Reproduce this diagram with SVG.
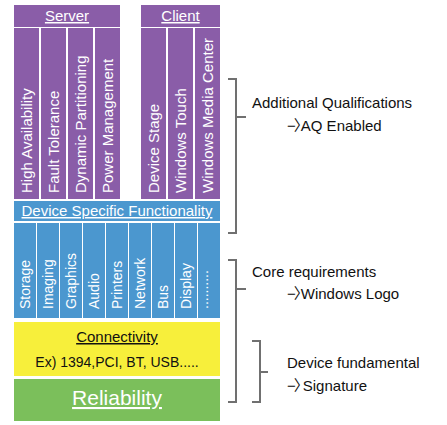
<svg xmlns="http://www.w3.org/2000/svg" width="447" height="425" viewBox="0 0 447 425">
<style>
.p{fill:#8a5da8}
.b{fill:#4b97cf}
.w{fill:#fff;font-family:"Liberation Sans",Arial,sans-serif}
.k{fill:#111;font-family:"Liberation Sans","Noto Sans CJK KR",Arial,sans-serif;font-size:15px}
.v{font-size:15px}
.bv{font-size:14px}
.u{text-decoration:underline}
.br{fill:none;stroke:#707070;stroke-width:2}
</style>
<rect width="447" height="425" fill="#fff"/>
<g id="server">
<rect class="p" x="14" y="5" width="106" height="22"/>
<text class="w u" x="67" y="21" font-size="15" text-anchor="middle">Server</text>
</g>
<g id="client">
<rect class="p" x="141" y="5" width="79" height="22"/>
<text class="w u" x="180.5" y="21" font-size="15" text-anchor="middle">Client</text>
</g>
<g id="high-availability"><rect class="p" x="14" y="28" width="25" height="171"/><text class="w v" transform="translate(31.5,193) rotate(-90)">High Availability</text></g>
<g id="fault-tolerance"><rect class="p" x="41" y="28" width="25" height="171"/><text class="w v" transform="translate(58.5,193) rotate(-90)">Fault Tolerance</text></g>
<g id="dynamic-partitioning"><rect class="p" x="68" y="28" width="25" height="171"/><text class="w v" transform="translate(85.5,193) rotate(-90)">Dynamic Partitioning</text></g>
<g id="power-management"><rect class="p" x="95" y="28" width="25" height="171"/><text class="w v" transform="translate(112.5,193) rotate(-90)">Power Management</text></g>
<g id="device-stage"><rect class="p" x="141" y="28" width="25" height="171"/><text class="w v" transform="translate(158.5,193) rotate(-90)">Device Stage</text></g>
<g id="windows-touch"><rect class="p" x="168" y="28" width="25" height="171"/><text class="w v" transform="translate(185.5,193) rotate(-90)">Windows Touch</text></g>
<g id="windows-media-center"><rect class="p" x="195" y="28" width="25" height="171"/><text class="w v" transform="translate(212.5,193) rotate(-90)">Windows Media Center</text></g>
<g id="device-specific">
<rect class="b" x="14" y="201" width="206" height="20"/>
<text class="w u" x="117" y="216" font-size="15" text-anchor="middle">Device Specific Functionality</text>
</g>
<g id="storage"><rect class="b" x="14" y="223" width="22" height="95"/><text class="w bv" transform="translate(29.5,309) rotate(-90)">Storage</text></g>
<g id="imaging"><rect class="b" x="37" y="223" width="22" height="95"/><text class="w bv" transform="translate(52.5,309) rotate(-90)">Imaging</text></g>
<g id="graphics"><rect class="b" x="60" y="223" width="22" height="95"/><text class="w bv" transform="translate(75.5,309) rotate(-90)">Graphics</text></g>
<g id="audio"><rect class="b" x="83" y="223" width="22" height="95"/><text class="w bv" transform="translate(98.5,309) rotate(-90)">Audio</text></g>
<g id="printers"><rect class="b" x="106" y="223" width="22" height="95"/><text class="w bv" transform="translate(121.5,309) rotate(-90)">Printers</text></g>
<g id="network"><rect class="b" x="129" y="223" width="22" height="95"/><text class="w bv" transform="translate(144.5,309) rotate(-90)">Network</text></g>
<g id="bus"><rect class="b" x="152" y="223" width="22" height="95"/><text class="w bv" transform="translate(167.5,309) rotate(-90)">Bus</text></g>
<g id="display"><rect class="b" x="175" y="223" width="22" height="95"/><text class="w bv" transform="translate(190.5,309) rotate(-90)">Display</text></g>
<g id="more"><rect class="b" x="198" y="223" width="22" height="95"/><text class="w bv" transform="translate(208,309) rotate(-90)">..........</text></g>
<g id="connectivity">
<rect x="14" y="322" width="206" height="54" fill="#f7ef3b"/>
<text class="k u" x="117" y="342" text-anchor="middle">Connectivity</text>
<text class="k" x="117" y="367" text-anchor="middle" style="font-size:14px">Ex) 1394,PCI, BT, USB.....</text>
</g>
<g id="reliability">
<rect x="14" y="379" width="206" height="42" fill="#7bbf5b"/>
<text class="w u" x="117" y="405" font-size="21" text-anchor="middle">Reliability</text>
</g>
<g id="connectors">
<path class="br" d="M228,79H236V233H228M236,117H246"/>
<path class="br" d="M228,260H236V402H228M236,289H246"/>
<path class="br" d="M252,341H260V402H252M260,372H268"/>
</g>
<g id="labels">
<text class="k" x="252" y="108">Additional Qualifications</text>
<text class="k" x="287" y="131"><tspan>−</tspan><tspan dx="-2">〉</tspan><tspan dx="-8">AQ Enabled</tspan></text>
<text class="k" x="252" y="277">Core requirements</text>
<text class="k" x="287" y="299"><tspan>−</tspan><tspan dx="-2">〉</tspan><tspan dx="-8">Windows Logo</tspan></text>
<text class="k" x="287" y="368">Device fundamental</text>
<text class="k" x="287" y="391"><tspan>−</tspan><tspan dx="-2">〉</tspan><tspan dx="-6">Signature</tspan></text>
</g>
</svg>
